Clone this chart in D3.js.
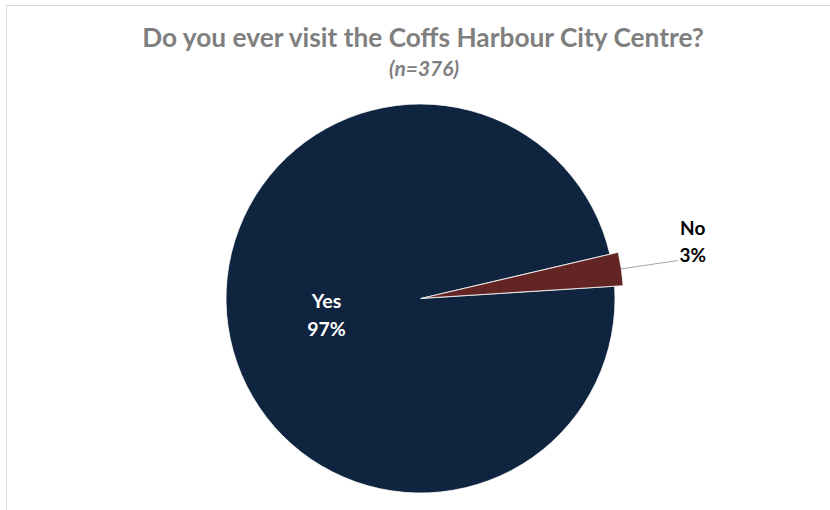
<!DOCTYPE html>
<html><head><meta charset="utf-8">
<script src="https://cdn.jsdelivr.net/npm/d3@7"></script>
<style>body{margin:0;background:#fff} svg{display:block}</style>
</head><body>
<script>
const categories = ["Yes", "No"];
const values = [366, 10];
const pctLabels = ["97%", "3%"];
const title = "Do you ever visit the Coffs Harbour City Centre?";
const subtitle = "(n=376)";
const colors = ["#0F243E", "#632523"];

const W = 830, H = 510;
const FONT = "Lato, 'Open Sans', 'DejaVu Sans', sans-serif";
const svg = d3.select("body").append("svg").attr("width", W).attr("height", H);
svg.append("rect").attr("x", 6.5).attr("y", 5.5).attr("width", W).attr("height", H)
  .attr("fill", "#fff").attr("stroke", "#D9D9D9");

function fitText(sel, target) {
  const len = sel.node().getComputedTextLength();
  const fs = parseFloat(sel.attr("font-size"));
  sel.attr("font-size", fs * target / len);
}

const t = svg.append("text").attr("x", 423).attr("y", 47).attr("text-anchor", "middle")
  .attr("font-family", FONT).attr("font-weight", "bold").attr("font-size", 24)
  .attr("fill", "#7F7F7F").text(title);
fitText(t, 562);
const st = svg.append("text").attr("x", 424).attr("y", 76).attr("text-anchor", "middle")
  .attr("font-family", FONT).attr("font-weight", "bold").attr("font-style", "italic").attr("font-size", 18)
  .attr("fill", "#7F7F7F").text(subtitle);
fitText(st, 70);

const cx = 420.5, cy = 298.5, R = 194.5;
const start = 86.4 * Math.PI / 180;
const pie = d3.pie().sort(null).value(d => d).startAngle(start).endAngle(start + 2 * Math.PI);
const arcs = pie(values);
const g = svg.append("g").attr("transform", `translate(${cx},${cy})`);
const explode = [0, 1.5];
const extraR = [0, 7];

arcs.forEach((a, i) => {
  const mid = (a.startAngle + a.endAngle) / 2;
  const dx = explode[i] * Math.sin(mid), dy = -explode[i] * Math.cos(mid);
  const arc = d3.arc().innerRadius(0).outerRadius(R + extraR[i]);
  g.append("path").attr("d", arc(a)).attr("transform", `translate(${dx},${dy})`)
    .attr("fill", colors[i]).attr("stroke", "#fff").attr("stroke-width", 0.75)
    .attr("stroke-linejoin", "round");
});

// Yes label inside
{
  const a = arcs[0];
  const c = d3.arc().innerRadius(0).outerRadius(192).centroid(a);
  const tx = g.append("text").attr("text-anchor", "middle").attr("font-family", FONT)
    .attr("font-weight", "bold").attr("font-size", 19.5).attr("fill", "#fff");
  tx.append("tspan").attr("x", c[0] + 1).attr("y", c[1] - 4.5).text(categories[0]);
  tx.append("tspan").attr("x", c[0] + 1).attr("y", c[1] + 23.5).text(pctLabels[0]);
}
// No label outside with leader
{
  const a = arcs[1];
  const mid = (a.startAngle + a.endAngle) / 2;
  const ex = explode[1];
  const r0 = R + extraR[1] + ex;
  const p0 = [r0 * Math.sin(mid), -r0 * Math.cos(mid)];
  const p1 = [260 * Math.sin(mid), -260 * Math.cos(mid)];
  g.append("line").attr("x1", p0[0]).attr("y1", p0[1]).attr("x2", p1[0]).attr("y2", p1[1])
    .attr("stroke", "#A6A6A6").attr("stroke-width", 1);
  const tx = g.append("text").attr("text-anchor", "middle").attr("font-family", FONT)
    .attr("font-weight", "bold").attr("font-size", 19).attr("fill", "#000");
  const lx = p1[0] + 15;
  tx.append("tspan").attr("x", lx).attr("y", p1[1] - 26).text(categories[1]);
  tx.append("tspan").attr("x", lx).attr("y", p1[1] + 1).text(pctLabels[1]);
}
</script>
</body></html>
